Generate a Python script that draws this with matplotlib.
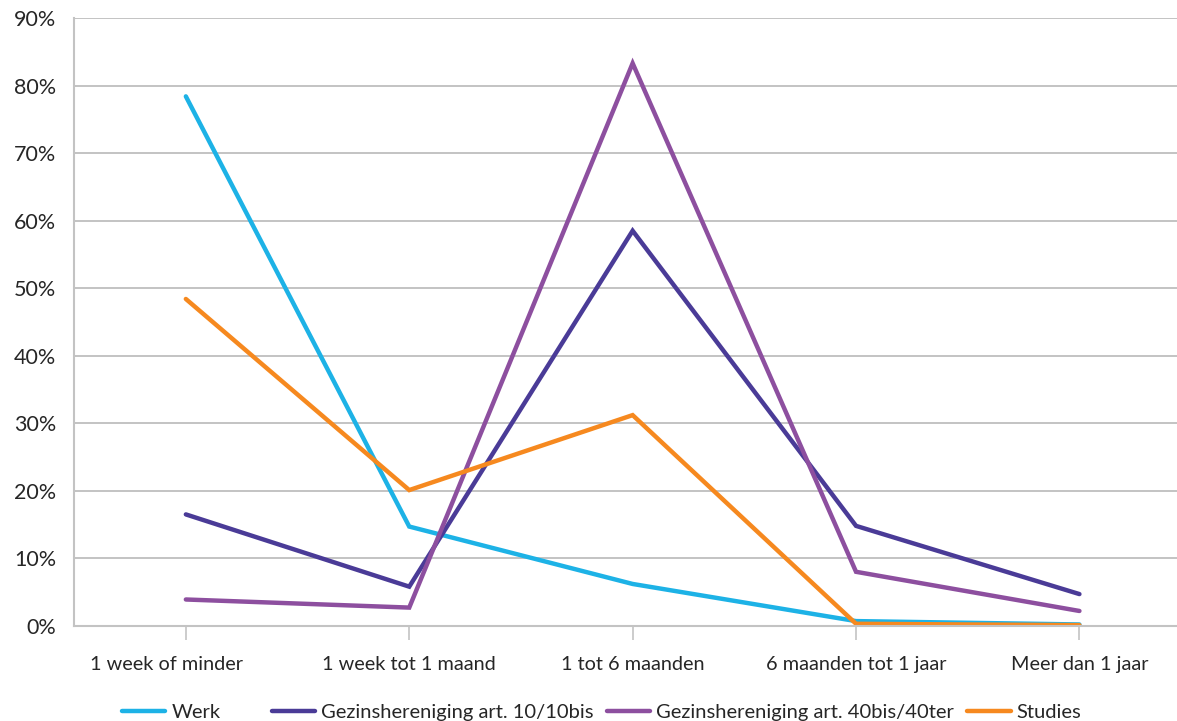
import matplotlib.pyplot as plt
from matplotlib.ticker import FuncFormatter
from matplotlib.transforms import ScaledTranslation

categories = ['1 week of minder', '1 week tot 1 maand', '1 tot 6 maanden',
              '6 maanden tot 1 jaar', 'Meer dan 1 jaar']

werk = [78.4, 14.7, 6.2, 0.7, 0.2]
gezin_10 = [16.5, 5.8, 58.5, 14.8, 4.7]
gezin_40 = [3.9, 2.7, 83.3, 8.0, 2.2]
studies = [48.4, 20.1, 31.2, 0.3, 0.1]

series = [
    ('Werk', werk, '#1db2e6'),
    ('Gezinshereniging art. 10/10bis', gezin_10, '#4a3b97'),
    ('Gezinshereniging art. 40bis/40ter', gezin_40, '#8d4f9f'),
    ('Studies', studies, '#f6891f'),
]

plt.rcParams['font.family'] = ['Lato', 'DejaVu Sans']
grey = '#c3c3c3'
txt = '#262626'

fig = plt.figure(figsize=(11.77, 7.21), dpi=100)
# right edge runs past the figure so the last band is cut off
ax = fig.add_axes([0.063, 0.132, 0.949, 0.843])

x = range(len(categories))
lines = []
for name, vals, col in series:
    ln, = ax.plot(x, vals, color=col, lw=3.2, label=name, solid_capstyle='round',
                  solid_joinstyle='miter')
    lines.append(ln)

ax.set_xlim(-0.5, len(categories) - 0.5)
ax.set_ylim(0, 90)
ax.set_yticks(range(0, 91, 10))
ax.yaxis.set_major_formatter(FuncFormatter(lambda v, p: f'{v:.0f}%'))
ax.set_xticks(list(x))
ax.set_xticklabels(categories)

ax.grid(axis='y', color=grey, lw=1.4)
ax.set_axisbelow(True)
for s in ['top', 'right']:
    ax.spines[s].set_visible(False)
for s in ['left', 'bottom']:
    ax.spines[s].set_color(grey)
    ax.spines[s].set_linewidth(1.5)

ax.tick_params(axis='y', length=0, pad=13, labelsize=15.5, labelcolor=txt)
ax.tick_params(axis='x', length=10, width=1.2, color=grey, pad=12,
               labelsize=14.3, labelcolor=txt)

# first category label sits a bit left of its tick
first = ax.get_xticklabels()[0]
first.set_transform(first.get_transform() +
                    ScaledTranslation(-19 / 100, 0, fig.dpi_scale_trans))

leg_kw = dict(frameon=False, fontsize=14.5, handlelength=2.15,
              handletextpad=0.3, labelcolor=txt, loc='lower left',
              borderpad=0, borderaxespad=0)
leg1 = fig.legend(lines[:1], [s[0] for s in series[:1]],
                  bbox_to_anchor=(122 / 1177, 0.0), **leg_kw)
fig.legend(lines[1:], [s[0] for s in series[1:]], ncol=3, columnspacing=0.65,
           bbox_to_anchor=(272 / 1177, 0.0), **leg_kw)

fig.savefig('out.png', dpi=100)
